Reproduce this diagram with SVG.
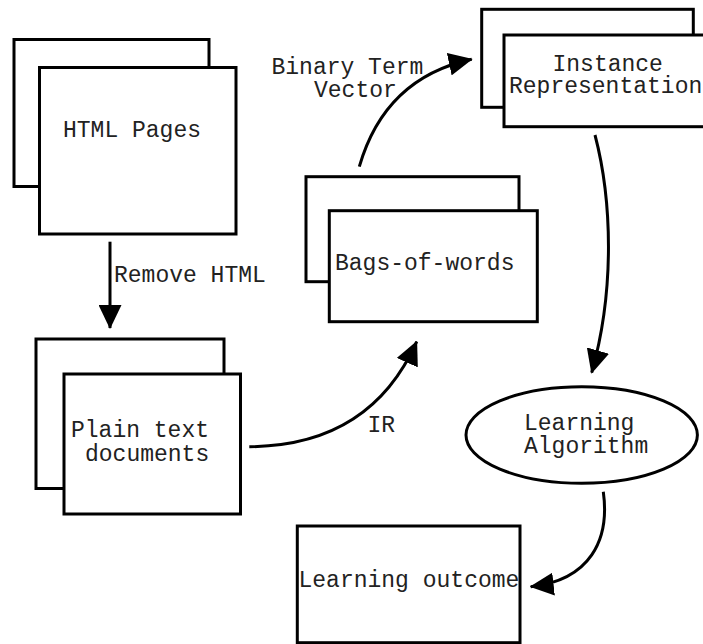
<svg xmlns="http://www.w3.org/2000/svg" width="703" height="644" viewBox="0 0 703 644">
<style>
.box{fill:#fff;stroke:#000;stroke-width:3}
.lbl{font-family:"Liberation Mono","Courier New",monospace;font-size:23px;fill:#222}
.conn{fill:none;stroke:#000;stroke-width:3}
</style>
<defs>
<marker id="arr" viewBox="0 0 24 23" refX="23" refY="11.5" markerWidth="24" markerHeight="23" markerUnits="userSpaceOnUse" orient="auto">
<path d="M0,0 L24,11.5 L0,23 z" fill="#000"/>
</marker>
</defs>
<rect width="703" height="644" fill="#fff"/>
<g id="html-pages">
<rect class="box" x="14" y="39.5" width="195" height="147"/>
<rect class="box" x="39.5" y="67.5" width="196.5" height="166.5"/>
<text class="lbl" x="63" y="136.5">HTML Pages</text>
</g>
<g id="plain-text">
<rect class="box" x="36" y="339" width="188" height="149.5"/>
<rect class="box" x="64" y="374" width="176.5" height="140"/>
<text class="lbl" x="71" y="437.3">Plain text</text>
<text class="lbl" x="85" y="460.7">documents</text>
</g>
<g id="bags-of-words">
<rect class="box" x="306" y="176.7" width="213" height="105"/>
<rect class="box" x="329.3" y="210.7" width="208" height="111"/>
<text class="lbl" x="335" y="270">Bags-of-words</text>
</g>
<g id="instance">
<rect class="box" x="481.7" y="9.3" width="211.6" height="98"/>
<rect class="box" x="504" y="35" width="220" height="91.7"/>
<text class="lbl" x="552.5" y="70.7">Instance</text>
<text class="lbl" x="509" y="93.3">Representation</text>
</g>
<g id="learning-algorithm">
<ellipse class="box" cx="581.7" cy="435" rx="115.7" ry="48.3"/>
<text class="lbl" x="524" y="430">Learning</text>
<text class="lbl" x="524" y="453.3">Algorithm</text>
</g>
<g id="learning-outcome">
<rect class="box" x="297.3" y="526" width="222.7" height="116.7"/>
<text class="lbl" x="298.5" y="587.3">Learning outcome</text>
</g>
<g id="connectors">
<path class="conn" d="M110,241.7 L110,328" marker-end="url(#arr)"/>
<path class="conn" d="M249.3,446.7 Q370,446 416.7,341.7" marker-end="url(#arr)"/>
<path class="conn" d="M359.3,166.7 Q385,78 471.7,59.3" marker-end="url(#arr)"/>
<path class="conn" d="M595,135 C612,200 615,290 591.7,372.7" marker-end="url(#arr)"/>
<path class="conn" d="M603.3,491.7 C610,540 590,580 530.7,586.7" marker-end="url(#arr)"/>
<text class="lbl" x="114" y="281.7">Remove HTML</text>
<text class="lbl" x="367.5" y="431.7">IR</text>
<text class="lbl" x="271.5" y="74">Binary Term</text>
<text class="lbl" x="314" y="96.7">Vector</text>
</g>
</svg>
